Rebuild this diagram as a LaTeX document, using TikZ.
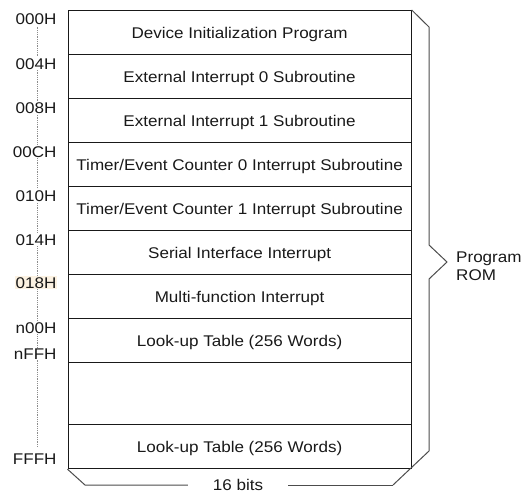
\documentclass[tikz,border=0pt]{standalone}
\usepackage{fontspec}
\setmainfont{Liberation Sans}[FakeStretch=1.1]
\definecolor{ink}{gray}{0.1}
\definecolor{hl}{RGB}{252,242,226}
\begin{document}
\begin{tikzpicture}[x=1pt,y=-1pt,
  font=\fontsize{15.5}{18}\selectfont,
  row/.style={draw=ink, line width=1.2pt, minimum width=343pt, inner sep=0pt,
    anchor=north west, text=ink, text height=11pt, text depth=0pt},
  addr/.style={anchor=east, fill=white, inner sep=0.8pt, text=ink,
    text height=11pt, text depth=0pt},
  brace/.style={draw=black!70, line width=1pt, line join=miter},
  dots/.style={draw=black!45, line width=0.9pt, dash pattern=on 0.9pt off 0.9pt}]
\useasboundingbox (0,0) rectangle (521,495);
% rows
\node[row, minimum height=44pt] (r0) at (67.5,10) {Device Initialization Program};
\node[row, minimum height=44pt] (r1) at (67.5,54) {External Interrupt 0 Subroutine};
\node[row, minimum height=44pt] (r2) at (67.5,98) {External Interrupt 1 Subroutine};
\node[row, minimum height=44pt] (r3) at (67.5,142) {Timer/Event Counter 0 Interrupt Subroutine};
\node[row, minimum height=44pt] (r4) at (67.5,186) {Timer/Event Counter 1 Interrupt Subroutine};
\node[row, minimum height=44pt] (r5) at (67.5,230) {Serial Interface Interrupt};
\node[row, minimum height=44pt] (r6) at (67.5,274) {Multi-function Interrupt};
\node[row, minimum height=44pt] (r7) at (67.5,318) {Look-up Table (256 Words)};
\node[row, minimum height=62pt] (r8) at (67.5,362) {};
\node[row, minimum height=44pt] (r9) at (67.5,424) {Look-up Table (256 Words)};
% dotted address line
\coordinate (dtop) at (37,23);
\coordinate (dbot) at (37,447);
\draw[dots] (dtop) -- (dbot);
% addresses
\node[addr] (a0) at (57.5,19.5) {000H};
\node[addr] (a1) at (57.5,63.5) {004H};
\node[addr] (a2) at (57.5,107.5) {008H};
\node[addr] (a3) at (57.5,151.5) {00CH};
\node[addr] (a4) at (57.5,195.5) {010H};
\node[addr] (a5) at (57.5,239.5) {014H};
\node[addr, fill=hl] (a6) at (57.5,282.5) {018H};
\node[addr] (a7) at (57.5,328) {n00H};
\node[addr] (a8) at (57.5,354) {nFFH};
\node[addr] (a9) at (57.5,459) {FFFH};
% brace
\coordinate (b0) at (r0.north east);
\coordinate (b1) at (429,27);
\coordinate (b2) at (429,245);
\coordinate (b3) at (447,262);
\coordinate (b4) at (429,279);
\coordinate (b5) at (429,451);
\coordinate (b6) at (393,485);
\draw[brace] (b0) -- (b1) -- (b2) -- (b3) -- (b4) -- (b5) -- (b6);
\node[anchor=west, align=left, text=ink, inner sep=0pt] (prom) at (456,266) {Program\\ROM};
% width dimension
\coordinate (c0) at (r9.south west);
\coordinate (c1) at (85,485);
\node[minimum width=100pt, inner sep=0pt, text=ink, text height=11pt, text depth=0pt] (bits) at (238,485) {16 bits};
\draw[brace] (c0) -- (c1) -- (bits.west);
\draw[brace] (bits.east) -- (b6);
\end{tikzpicture}
\end{document}
